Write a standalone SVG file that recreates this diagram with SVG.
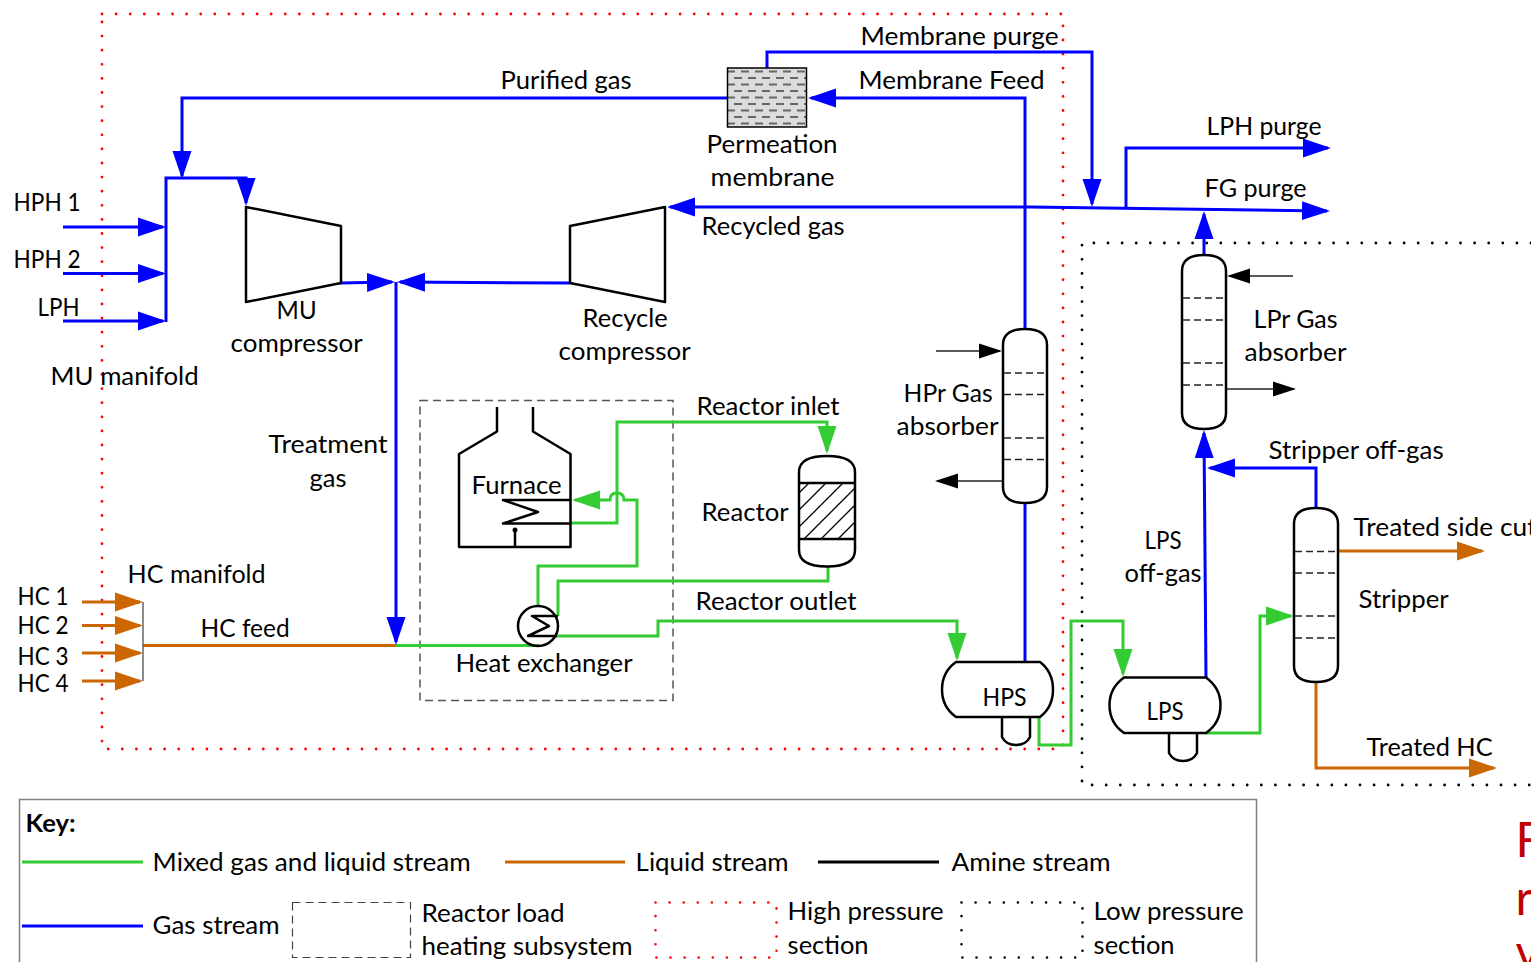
<svg xmlns="http://www.w3.org/2000/svg" width="1531" height="962" viewBox="0 0 1531 962">
<style>
text{font-family:"Lato","Liberation Sans",sans-serif;font-size:25px;fill:#000;transform:translate(-.4px,0)}
.k{fill:none;stroke:#000;stroke-width:2.5;stroke-linejoin:round}
.tray{stroke:#222;stroke-width:1.5;stroke-dasharray:7 4;fill:none}
.b,.g,.o,.a{fill:none;stroke-linejoin:miter}
.b{stroke:#0000ff;stroke-width:3}
.g{stroke:#33cc33;stroke-width:3}
.o{stroke:#cc6600;stroke-width:3}
.a{stroke:#222;stroke-width:1.5}
.rd{fill:none;stroke:#ff0000;stroke-width:2.8;stroke-linecap:round;stroke-dasharray:0 14.1}
.kd{fill:none;stroke:#000;stroke-width:2.8;stroke-linecap:round;stroke-dasharray:0 14.1}
.small{stroke-width:2.6}
.red{font-size:48px;fill:#c00000}
</style>
<defs>
<marker id="mb" markerUnits="userSpaceOnUse" markerWidth="28" markerHeight="20" viewBox="0 0 28 20" refX="25" refY="10" orient="auto"><path d="M0,0.5L28,10L0,19.5Z" fill="#0000ff"/></marker>
<marker id="mg" markerUnits="userSpaceOnUse" markerWidth="28" markerHeight="20" viewBox="0 0 28 20" refX="25" refY="10" orient="auto"><path d="M0,0.5L28,10L0,19.5Z" fill="#33cc33"/></marker>
<marker id="mo" markerUnits="userSpaceOnUse" markerWidth="28" markerHeight="20" viewBox="0 0 28 20" refX="25" refY="10" orient="auto"><path d="M0,0.5L28,10L0,19.5Z" fill="#cc6600"/></marker>
<marker id="mk" markerUnits="userSpaceOnUse" markerWidth="23" markerHeight="16" viewBox="0 0 23 16" refX="21" refY="8" orient="auto"><path d="M0,0.5L23,8L0,15.5Z" fill="#000"/></marker>
<pattern id="perm" patternUnits="userSpaceOnUse" x="727" y="68" width="14" height="13">
<rect width="14" height="13" fill="#dcdcdc"/>
<path d="M0,3.500H8M7,10H14M0,10H1" stroke="#666" stroke-width="2" fill="none"/>
</pattern>
<pattern id="hatch" patternUnits="userSpaceOnUse" width="17" height="17">
<rect width="17" height="17" fill="#fff"/>
<path d="M-2,19L19,-2M-2,2L2,-2M15,19L19,15" stroke="#000" stroke-width="1.300" fill="none"/>
</pattern>
</defs>
<rect width="1531" height="962" fill="#fff"/>

<g id="sections">
<rect class="rd" x="102" y="14" width="961" height="735"/>
<path class="kd" d="M1531,243H1082V785H1531"/>
<rect x="420" y="400.500" width="253" height="300" fill="none" stroke="#555" stroke-width="1.500" stroke-dasharray="8 5"/>
</g>

<g id="connectors">
<path class="b" d="M727,98H182V176" marker-end="url(#mb)"/>
<path class="b" d="M166,322V178H246V203" marker-end="url(#mb)"/>
<path class="b" d="M63,227H163" marker-end="url(#mb)"/>
<path class="b" d="M63,273.500H163" marker-end="url(#mb)"/>
<path class="b" d="M63,321H163" marker-end="url(#mb)"/>
<path class="b" d="M340,283L392,282" marker-end="url(#mb)"/>
<path class="b" d="M570,283L400,282" marker-end="url(#mb)"/>
<path class="b" d="M396,282V642" marker-end="url(#mb)"/>
<path class="b" d="M1030,207H670" marker-end="url(#mb)"/>
<path class="b" d="M1030,207L1327,211" marker-end="url(#mb)"/>
<path class="b" d="M1126,208V148H1328" marker-end="url(#mb)"/>
<path class="b" d="M767,68V52H1092V204" marker-end="url(#mb)"/>
<path class="b" d="M1025,329V98H811" marker-end="url(#mb)"/>
<path class="b" d="M1025,661V503"/>
<path class="b" d="M1204,255V214" marker-end="url(#mb)"/>
<path class="b" d="M1206,678L1204,433" marker-end="url(#mb)"/>
<path class="b" d="M1316,508V468H1210" marker-end="url(#mb)"/>
<path class="o" d="M82,602H140" marker-end="url(#mo)"/>
<path class="o" d="M82,625.500H140" marker-end="url(#mo)"/>
<path class="o" d="M82,653H140" marker-end="url(#mo)"/>
<path class="o" d="M82,681H140" marker-end="url(#mo)"/>
<path class="o" d="M143,645.500H396"/>
<path class="o" d="M1338,551H1482" marker-end="url(#mo)"/>
<path class="o" d="M1316,682V768H1494" marker-end="url(#mo)"/>
<path class="g" d="M396,645.500H539"/>
<path class="g" d="M538,606V566H637V500H624Q624,493 617,493Q610,493 610,500H575" marker-end="url(#mg)"/>
<path class="g" d="M570,523H617V422H827V451" marker-end="url(#mg)"/>
<path class="g" d="M828,566V581H558V616"/>
<path class="g" d="M557,636H658V621H957V658" marker-end="url(#mg)"/>
<path class="g" d="M1039,717V745H1071V621H1123V674" marker-end="url(#mg)"/>
<path class="g" d="M1206,733H1260V616H1291" marker-end="url(#mg)"/>
<path class="a" d="M936,351H1000" marker-end="url(#mk)"/>
<path class="a" d="M1003,481H937" marker-end="url(#mk)"/>
<path class="a" d="M1293,276H1229" marker-end="url(#mk)"/>
<path class="a" d="M1226,389H1294" marker-end="url(#mk)"/>
</g>

<g id="membrane">
<rect x="727.500" y="68" width="79" height="59" fill="url(#perm)" stroke="#000" stroke-width="1.500"/>
<text x="707" y="153" textLength="131" lengthAdjust="spacingAndGlyphs">Permeation</text>
<text x="711" y="186" textLength="124" lengthAdjust="spacingAndGlyphs">membrane</text>
</g>
<g id="mu-manifold">
<text x="51" y="385" textLength="148" lengthAdjust="spacingAndGlyphs">MU manifold</text>
</g>
<g id="mu-compressor">
<path class="k" d="M246,207L341,226V283L246,302Z"/>
<text x="277" y="319" textLength="40" lengthAdjust="spacingAndGlyphs">MU</text>
<text x="231" y="352" textLength="132" lengthAdjust="spacingAndGlyphs">compressor</text>
</g>
<g id="recycle-compressor">
<path class="k" d="M570,226L665,207V302L570,283Z"/>
<text x="583" y="327" textLength="85" lengthAdjust="spacingAndGlyphs">Recycle</text>
<text x="559" y="360" textLength="132" lengthAdjust="spacingAndGlyphs">compressor</text>
</g>
<g id="furnace">
<path class="k" d="M497,407V431.500L459,454V547H570.500V454L533,431.500V407"/>
<path class="k" d="M570,500H503L538,512L503,523.500H570"/>
<path class="k" d="M515,547V530"/>
<circle cx="515" cy="530" r="2.500" fill="#000"/>
<text x="472" y="494" textLength="90" lengthAdjust="spacingAndGlyphs">Furnace</text>
</g>
<g id="reactor">
<path d="M799,483H855V539H799Z" fill="url(#hatch)"/>
<path class="k" d="M799,472Q799,456 827,456Q855,456 855,472V550Q855,566.500 827,566.500Q799,566.500 799,550Z"/>
<path class="k" d="M799,483H855M799,539H855"/>
<text x="702" y="521" textLength="87" lengthAdjust="spacingAndGlyphs">Reactor</text>
</g>
<g id="heat-exchanger">
<circle class="k" cx="538" cy="626" r="20"/>
<path class="k" d="M558,616H532L549,626L528,636H557"/>
<text x="456" y="672" textLength="177" lengthAdjust="spacingAndGlyphs">Heat exchanger</text>
</g>
<g id="hc-manifold">
<path d="M143,602V681" stroke="#666" stroke-width="1.500" fill="none"/>
<text x="128" y="583" textLength="138" lengthAdjust="spacingAndGlyphs">HC manifold</text>
</g>
<g id="hpr-absorber">
<path class="k" d="M1003,345Q1003,329 1025,329Q1047,329 1047,345V487Q1047,503 1025,503Q1003,503 1003,487Z"/>
<path class="tray" d="M1004,373H1046M1004,394.500H1046M1004,438H1046M1004,459.500H1046"/>
<text x="904" y="402" textLength="89" lengthAdjust="spacingAndGlyphs">HPr Gas</text>
<text x="897" y="435" textLength="102" lengthAdjust="spacingAndGlyphs">absorber</text>
</g>
<g id="lpr-absorber">
<path class="k" d="M1182,271Q1182,255 1204,255Q1226,255 1226,271V413Q1226,429 1204,429Q1182,429 1182,413Z"/>
<path class="tray" d="M1183,298H1225M1183,320H1225M1183,363H1225M1183,385H1225"/>
<text x="1254" y="328" textLength="84" lengthAdjust="spacingAndGlyphs">LPr Gas</text>
<text x="1245" y="361" textLength="102" lengthAdjust="spacingAndGlyphs">absorber</text>
</g>
<g id="stripper">
<path class="k" d="M1294,524Q1294,508 1316,508Q1338,508 1338,524V666Q1338,682 1316,682Q1294,682 1294,666Z"/>
<path class="tray" d="M1295,551.500H1337M1295,573H1337M1295,616H1337M1295,638H1337"/>
<text x="1359" y="608" textLength="90" lengthAdjust="spacingAndGlyphs">Stripper</text>
</g>
<g id="hps">
<path class="k" d="M956,662H1040Q1053,672 1053,689.500Q1053,707 1040,717H956Q942,707 942,689.500Q942,672 956,662Z"/>
<path class="k" d="M1002,717V737Q1006,745 1016,745Q1026,745 1030,737V717"/>
<text x="983" y="706" textLength="44" lengthAdjust="spacingAndGlyphs">HPS</text>
</g>
<g id="lps">
<path class="k" d="M1124,677.500H1206Q1220.500,688 1220.500,705Q1220.500,723 1206,733H1124Q1109.500,723 1109.500,705Q1109.500,688 1124,677.500Z"/>
<path class="k" d="M1169,733V753Q1173,761 1183,761Q1193,761 1197,753V733"/>
<text x="1147" y="720" textLength="37" lengthAdjust="spacingAndGlyphs">LPS</text>
</g>

<g id="labels">
<text x="861" y="45" textLength="198" lengthAdjust="spacingAndGlyphs">Membrane purge</text>
<text x="501" y="89" textLength="131" lengthAdjust="spacingAndGlyphs">Purified gas</text>
<text x="859" y="89" textLength="186" lengthAdjust="spacingAndGlyphs">Membrane Feed</text>
<text x="1207" y="135" textLength="115" lengthAdjust="spacingAndGlyphs">LPH purge</text>
<text x="1205" y="197" textLength="102" lengthAdjust="spacingAndGlyphs">FG purge</text>
<text x="702" y="235" textLength="143" lengthAdjust="spacingAndGlyphs">Recycled gas</text>
<text x="14" y="211" textLength="67" lengthAdjust="spacingAndGlyphs">HPH 1</text>
<text x="14" y="268" textLength="67" lengthAdjust="spacingAndGlyphs">HPH 2</text>
<text x="38" y="316" textLength="42" lengthAdjust="spacingAndGlyphs">LPH</text>
<text x="269" y="453" textLength="119" lengthAdjust="spacingAndGlyphs">Treatment</text>
<text x="310" y="487" textLength="37" lengthAdjust="spacingAndGlyphs">gas</text>
<text x="697" y="415" textLength="143" lengthAdjust="spacingAndGlyphs">Reactor inlet</text>
<text x="696" y="610" textLength="161" lengthAdjust="spacingAndGlyphs">Reactor outlet</text>
<text x="201" y="637" textLength="89" lengthAdjust="spacingAndGlyphs">HC feed</text>
<text x="18" y="605" textLength="51" lengthAdjust="spacingAndGlyphs">HC 1</text>
<text x="18" y="634" textLength="51" lengthAdjust="spacingAndGlyphs">HC 2</text>
<text x="18" y="665" textLength="51" lengthAdjust="spacingAndGlyphs">HC 3</text>
<text x="18" y="692" textLength="51" lengthAdjust="spacingAndGlyphs">HC 4</text>
<text x="1269" y="459" textLength="175" lengthAdjust="spacingAndGlyphs">Stripper off-gas</text>
<text x="1354" y="536" textLength="183" lengthAdjust="spacingAndGlyphs">Treated side cut</text>
<text x="1145" y="549" textLength="37" lengthAdjust="spacingAndGlyphs">LPS</text>
<text x="1125" y="582" textLength="77" lengthAdjust="spacingAndGlyphs">off-gas</text>
<text x="1367" y="756" textLength="126" lengthAdjust="spacingAndGlyphs">Treated HC</text>
</g>

<g id="key">
<rect x="19.500" y="799.500" width="1237" height="180" fill="none" stroke="#808080" stroke-width="1.500"/>
<text x="26" y="832" textLength="50" lengthAdjust="spacingAndGlyphs" font-weight="700">Key:</text>
<path class="g" d="M22,862H143"/>
<text x="153" y="871" textLength="318" lengthAdjust="spacingAndGlyphs">Mixed gas and liquid stream</text>
<path class="o" d="M505,862H625"/>
<text x="636" y="871" textLength="153" lengthAdjust="spacingAndGlyphs">Liquid stream</text>
<path d="M818,862H939" stroke="#000" stroke-width="3" fill="none"/>
<text x="952" y="871" textLength="159" lengthAdjust="spacingAndGlyphs">Amine stream</text>
<path class="b" d="M22,926H143"/>
<text x="153" y="934" textLength="127" lengthAdjust="spacingAndGlyphs">Gas stream</text>
<rect x="292.500" y="902.500" width="118" height="55" fill="none" stroke="#444" stroke-width="1.200" stroke-dasharray="8 5"/>
<text x="422" y="922" textLength="143" lengthAdjust="spacingAndGlyphs">Reactor load</text>
<text x="422" y="955" textLength="211" lengthAdjust="spacingAndGlyphs">heating subsystem</text>
<rect class="rd small" x="655.500" y="902.500" width="121" height="55"/>
<text x="788" y="920" textLength="156" lengthAdjust="spacingAndGlyphs">High pressure</text>
<text x="788" y="954" textLength="81" lengthAdjust="spacingAndGlyphs">section</text>
<rect class="kd small" x="961.500" y="902.500" width="121" height="55"/>
<text x="1094" y="920" textLength="150" lengthAdjust="spacingAndGlyphs">Low pressure</text>
<text x="1094" y="954" textLength="81" lengthAdjust="spacingAndGlyphs">section</text>
</g>

<g id="cut-note">
<text class="red" x="1516" y="857">F</text>
<text class="red" x="1516" y="915">r</text>
<text class="red" x="1516" y="969">v</text>
</g>
</svg>
